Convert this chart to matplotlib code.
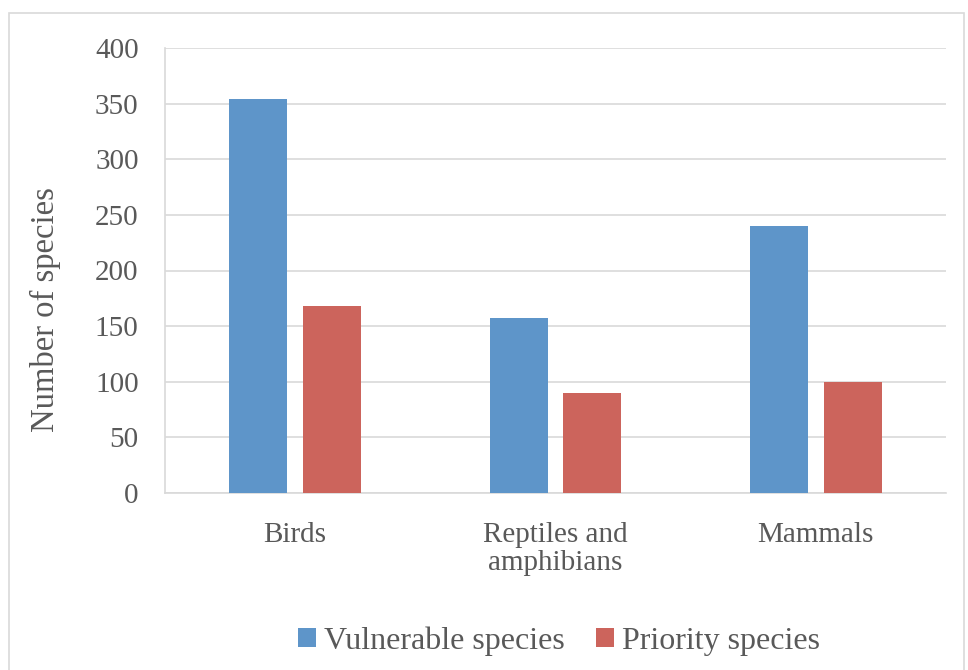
import matplotlib
matplotlib.use("Agg")
import matplotlib.pyplot as plt
from matplotlib.patches import Rectangle
import numpy as np

categories = ["Birds", "Reptiles and\namphibians", "Mammals"]
vulnerable = [354, 157, 240]
priority = [168, 90, 100]
series_names = ["Vulnerable species", "Priority species"]
yticks = [0, 50, 100, 150, 200, 250, 300, 350, 400]

plt.rcParams['font.family'] = ['Liberation Serif', 'DejaVu Serif']
txt = '#595959'
grid = '#d9d9d9'

fig = plt.figure(figsize=(9.68, 6.70), dpi=100)
fig.patches.append(Rectangle((9/968, -0.01), (964-9)/968, 1.01 - 13/670, transform=fig.transFigure,
                             fill=False, edgecolor='#d9d9d9', linewidth=1.2))
ax = fig.add_axes([165/968, 1 - 493/670, (946-165)/968, (493-48)/670])

x = np.arange(len(categories))
w = 0.223
off = 0.142
ax.bar(x - off, vulnerable, w, color='#5e95c9', label=series_names[0], zorder=3)
ax.bar(x + off, priority, w, color='#cc645c', label=series_names[1], zorder=3)

ax.set_xlim(-0.5, 2.5)
ax.set_ylim(0, 400)
ax.set_yticks(yticks)
ax.set_yticklabels([str(v) for v in yticks])
ax.set_xticks(x)
ax.set_xticklabels(categories, linespacing=1.1)
ax.yaxis.grid(True, color=grid, linewidth=1.2, zorder=0)
ax.set_axisbelow(True)
for s in ['top', 'right']:
    ax.spines[s].set_visible(False)
for s in ['left', 'bottom']:
    ax.spines[s].set_color(grid)
    ax.spines[s].set_linewidth(1.2)
ax.tick_params(axis='both', length=0, colors=txt, labelsize=21)
ax.tick_params(axis='y', pad=19)
ax.tick_params(axis='x', pad=21)
ax.set_ylabel("Number of species", fontsize=23.5, color=txt)
ax.yaxis.set_label_coords(-0.133, (493 - 310) / 445)

leg = fig.legend(loc='center', bbox_to_anchor=(0.5775, 1 - 641/670), ncol=2, frameon=False,
                 fontsize=23, handlelength=0.55, handleheight=0.55, handletextpad=0.25,
                 columnspacing=1.0)
for t in leg.get_texts():
    t.set_color(txt)

fig.savefig("out.png", dpi=100)
